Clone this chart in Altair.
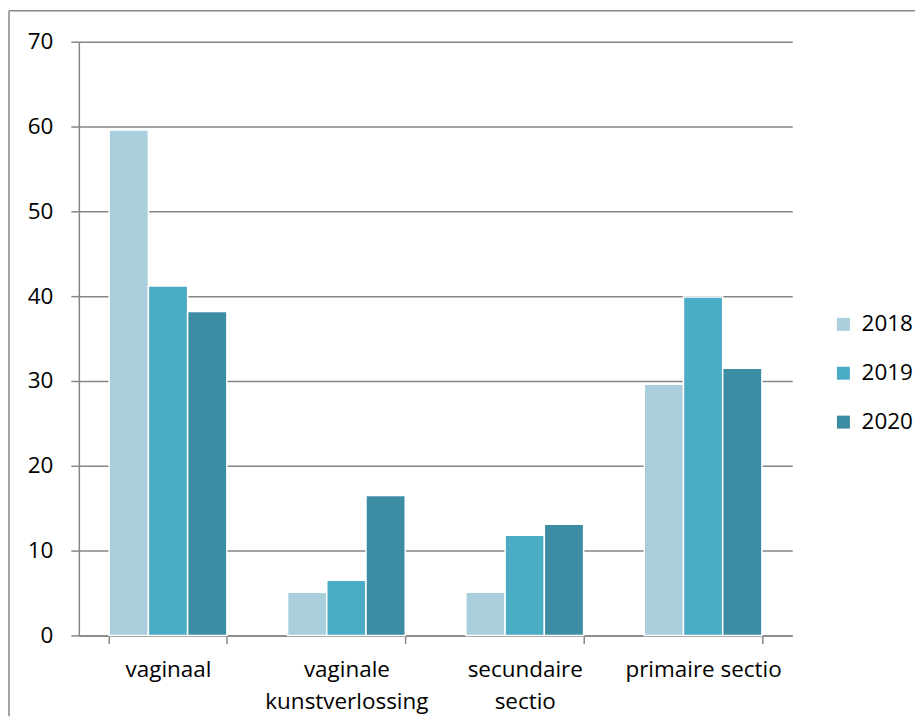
import altair as alt
import pandas as pd

categories = ["vaginaal", "vaginale kunstverlossing", "secundaire sectio", "primaire sectio"]
years = ["2018", "2019", "2020"]
v2018 = [59.6, 5.1, 5.1, 29.6]
v2019 = [41.2, 6.5, 11.8, 39.9]
v2020 = [38.2, 16.5, 13.1, 31.5]
colors = ["#A9CFDC", "#4BACC6", "#3C8CA3"]

rows = []
for yr, vals in zip(years, [v2018, v2019, v2020]):
    for c, v in zip(categories, vals):
        rows.append({"category": c, "year": yr, "value": v})
df = pd.DataFrame(rows)

FONT = "Open Sans"
FS = 22.5
GRID = "#868686"

bars = alt.Chart(df).mark_bar(stroke="white", strokeWidth=1.5).encode(
    x=alt.X(
        "category:N",
        sort=categories,
        title=None,
        scale=alt.Scale(paddingInner=0.34, paddingOuter=0.17),
        axis=alt.Axis(
            labelAngle=0,
            labelFont=FONT,
            labelFontSize=FS,
            labelColor="black",
            labelPadding=15,
            labelLineHeight=32,
            labelBaseline="top",
            labelExpr="datum.label == 'primaire sectio' ? datum.label : split(datum.label, ' ')",
            domainColor=GRID,
            domainWidth=1.5,
            tickColor=GRID,
            tickWidth=1.5,
            tickSize=8,
            tickBand="extent",
            grid=False,
        ),
    ),
    xOffset=alt.XOffset("year:N", sort=years, scale=alt.Scale(paddingInner=0)),
    y=alt.Y(
        "value:Q",
        title=None,
        scale=alt.Scale(domain=[0, 70], nice=False),
        axis=alt.Axis(
            values=list(range(0, 71, 10)),
            labelFont=FONT,
            labelFontSize=FS,
            labelColor="black",
            labelPadding=18,
            domainColor=GRID,
            domainWidth=1.5,
            tickColor=GRID,
            tickWidth=1.5,
            tickSize=8,
            gridColor=GRID,
            gridWidth=1.5,
        ),
    ),
    color=alt.Color(
        "year:N",
        sort=years,
        scale=alt.Scale(domain=years, range=colors),
        legend=alt.Legend(
            title=None,
            orient="none",
            legendX=755,
            legendY=272,
            padding=0,
            symbolType="square",
            symbolSize=169,
            symbolStrokeWidth=0,
            labelFont=FONT,
            labelFontSize=FS,
            labelColor="black",
            labelOffset=7,
            rowPadding=26,
        ),
    ),
)

frame_df = pd.DataFrame({"k": [0]})
left_rule = alt.Chart(frame_df).mark_rule(color=GRID, strokeWidth=1.5).encode(
    x=alt.value(-70), y=alt.value(-31), y2=alt.value(676)
)
top_rule = alt.Chart(frame_df).mark_rule(color=GRID, strokeWidth=1.5).encode(
    y=alt.value(-31), x=alt.value(-70), x2=alt.value(838)
)

chart = alt.layer(bars, left_rule, top_rule).properties(
    width=715,
    height=595,
    padding={"left": 0, "top": 1, "right": 0, "bottom": 0},
).configure_view(strokeWidth=0)

chart.save("out.html", embed_options={"renderer": "svg", "actions": False})
